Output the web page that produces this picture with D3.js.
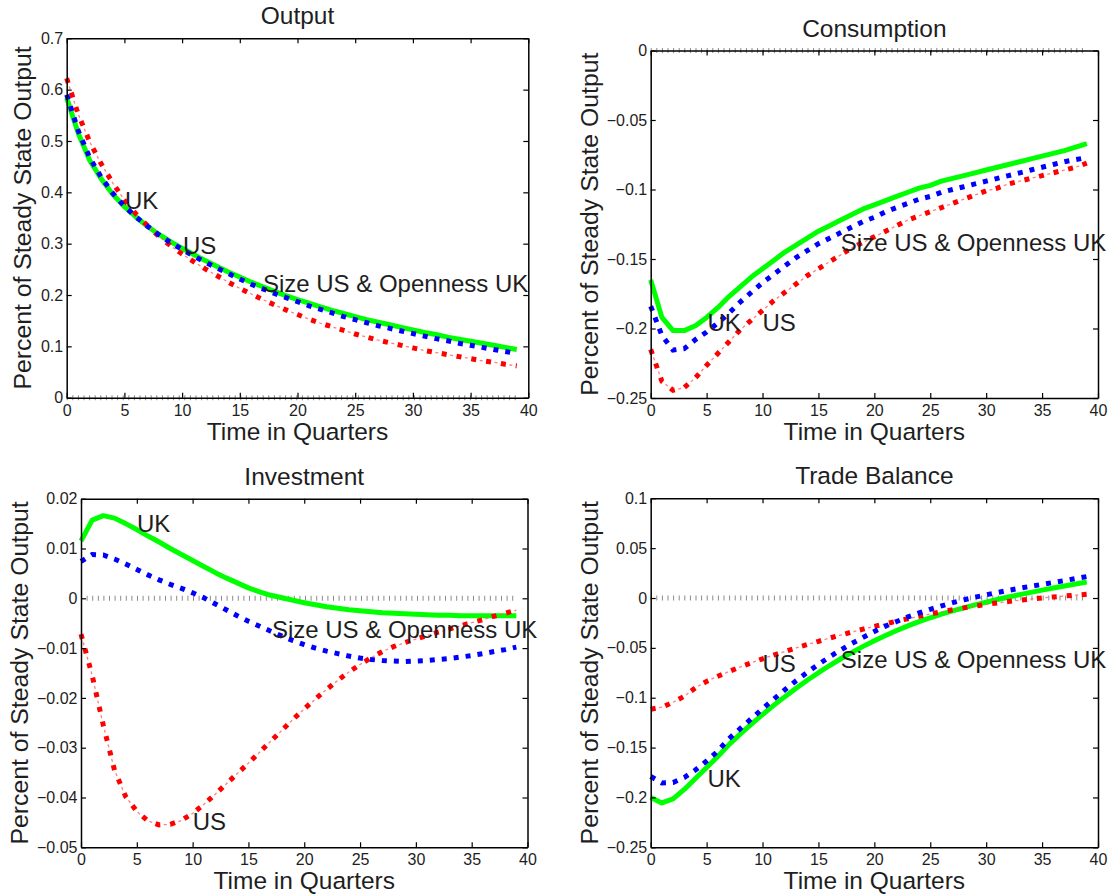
<!DOCTYPE html>
<html><head><meta charset="utf-8">
<script src="https://cdn.jsdelivr.net/npm/d3@7"></script>
<style>
body{margin:0;background:#fff}
svg{display:block}
text{font-family:"Liberation Sans",Arial,Helvetica,sans-serif;fill:#1e1e1e}
</style>
</head><body><svg id="c" width="1111" height="896"></svg>
<script>
// ---------------- data ----------------
const quarters = [0,1,2,3,4,5,6,7,8,9,10,11,12,13,14,15,16,17,18,19,20,21,22,23,24,25,26,27,28,29,30,31,32,33,34,35,36,37,38,39];
const xTicks = [0,5,10,15,20,25,30,35,40];
const xTickLabels = ["0","5","10","15","20","25","30","35","40"];
const seriesNames = ["UK","US","Size US & Openness UK"];

// Output
const outputUK   = [0.584,0.515,0.462,0.426,0.396,0.372,0.352,0.334,0.318,0.304,0.291,0.279,0.267,0.256,0.245,0.235,0.225,0.216,0.207,0.199,0.191,0.184,0.177,0.170,0.164,0.158,0.152,0.147,0.142,0.137,0.132,0.127,0.123,0.118,0.114,0.110,0.106,0.102,0.098,0.094];
const outputUS   = [0.622,0.552,0.498,0.455,0.418,0.385,0.358,0.335,0.314,0.296,0.280,0.265,0.251,0.238,0.225,0.213,0.202,0.191,0.181,0.171,0.162,0.153,0.145,0.138,0.131,0.124,0.118,0.112,0.107,0.102,0.097,0.092,0.088,0.084,0.080,0.076,0.072,0.069,0.065,0.062];
const outputSize = [0.590,0.520,0.467,0.429,0.398,0.373,0.352,0.334,0.317,0.302,0.289,0.276,0.264,0.253,0.242,0.231,0.221,0.212,0.203,0.195,0.187,0.179,0.172,0.165,0.158,0.152,0.146,0.140,0.135,0.130,0.125,0.120,0.115,0.111,0.106,0.102,0.098,0.094,0.090,0.086];
const outputYTicks = [0,0.1,0.2,0.3,0.4,0.5,0.6,0.7];
const outputYLabels = ["0","0.1","0.2","0.3","0.4","0.5","0.6","0.7"];

// Consumption
const consUK   = [-0.165,-0.192,-0.2015,-0.2015,-0.198,-0.192,-0.185,-0.177,-0.170,-0.163,-0.157,-0.151,-0.145,-0.140,-0.135,-0.130,-0.126,-0.122,-0.118,-0.114,-0.111,-0.108,-0.105,-0.102,-0.099,-0.097,-0.094,-0.092,-0.090,-0.088,-0.086,-0.084,-0.082,-0.080,-0.078,-0.076,-0.074,-0.072,-0.0695,-0.067];
const consUS   = [-0.215,-0.238,-0.2445,-0.2425,-0.2355,-0.2265,-0.218,-0.2095,-0.201,-0.194,-0.187,-0.180,-0.174,-0.168,-0.162,-0.157,-0.152,-0.147,-0.142,-0.138,-0.134,-0.130,-0.126,-0.122,-0.119,-0.116,-0.113,-0.110,-0.107,-0.104,-0.101,-0.099,-0.096,-0.094,-0.092,-0.090,-0.088,-0.086,-0.084,-0.081];
const consSize = [-0.184,-0.205,-0.2155,-0.2145,-0.208,-0.2025,-0.196,-0.189,-0.181,-0.174,-0.167,-0.161,-0.155,-0.149,-0.144,-0.139,-0.135,-0.131,-0.127,-0.123,-0.120,-0.116,-0.113,-0.110,-0.107,-0.105,-0.102,-0.100,-0.098,-0.096,-0.094,-0.092,-0.090,-0.088,-0.086,-0.084,-0.082,-0.080,-0.0785,-0.077];
const consYTicks = [-0.25,-0.2,-0.15,-0.1,-0.05,0];
const consYLabels = ["\u22120.25","\u22120.2","\u22120.15","\u22120.1","\u22120.05","0"];

// Investment
const invUK   = [0.0115,0.0157,0.0166,0.0161,0.0150,0.0138,0.0125,0.0113,0.0100,0.0088,0.0076,0.0064,0.0052,0.0041,0.0031,0.0021,0.0013,0.0006,0.0001,-0.0004,-0.0009,-0.0013,-0.0017,-0.0020,-0.0023,-0.0025,-0.0027,-0.0029,-0.0030,-0.0031,-0.0032,-0.0033,-0.0034,-0.0034,-0.0035,-0.0035,-0.0035,-0.0035,-0.0035,-0.0035];
const invUS   = [-0.0072,-0.0155,-0.0255,-0.0345,-0.0398,-0.0428,-0.0447,-0.0455,-0.0454,-0.0446,-0.0432,-0.0414,-0.0394,-0.0373,-0.0352,-0.0331,-0.0309,-0.0287,-0.0265,-0.0243,-0.0222,-0.0202,-0.0183,-0.0165,-0.0148,-0.0133,-0.0119,-0.0107,-0.0097,-0.0089,-0.0082,-0.0075,-0.0068,-0.0062,-0.0055,-0.0049,-0.0043,-0.0036,-0.0030,-0.0024];
const invSize = [0.0074,0.0088,0.0087,0.0079,0.0069,0.0058,0.0047,0.0037,0.0028,0.0020,0.0011,0.0001,-0.0011,-0.0023,-0.0035,-0.0046,-0.0056,-0.0066,-0.0076,-0.0085,-0.0093,-0.0100,-0.0106,-0.0111,-0.0116,-0.0120,-0.0123,-0.0125,-0.0126,-0.0127,-0.0126,-0.0125,-0.0123,-0.0121,-0.0118,-0.0115,-0.0111,-0.0107,-0.0103,-0.0098];
const invYTicks = [-0.05,-0.04,-0.03,-0.02,-0.01,0,0.01,0.02];
const invYLabels = ["\u22120.05","\u22120.04","\u22120.03","\u22120.02","\u22120.01","0","0.01","0.02"];

// Trade balance
const tbUK   = [-0.200,-0.2055,-0.2015,-0.192,-0.181,-0.170,-0.159,-0.147,-0.1365,-0.1265,-0.1169,-0.1077,-0.0989,-0.0905,-0.0825,-0.0749,-0.0677,-0.0609,-0.0545,-0.0485,-0.0429,-0.0376,-0.0326,-0.0279,-0.0237,-0.0198,-0.0162,-0.0129,-0.0098,-0.0069,-0.0042,-0.0015,0.0010,0.0034,0.0057,0.0079,0.0100,0.0120,0.0140,0.0160];
const tbUS   = [-0.1115,-0.1095,-0.1045,-0.0985,-0.0900,-0.0836,-0.0785,-0.0737,-0.0692,-0.0650,-0.0610,-0.0572,-0.0536,-0.0501,-0.0467,-0.0434,-0.0402,-0.0371,-0.0341,-0.0312,-0.0284,-0.0258,-0.0232,-0.0208,-0.0184,-0.0161,-0.0139,-0.0118,-0.0099,-0.0081,-0.0064,-0.0049,-0.0035,-0.0022,-0.0010,0.0001,0.0011,0.0020,0.0028,0.0038];
const tbSize = [-0.179,-0.1855,-0.185,-0.180,-0.1725,-0.1635,-0.1535,-0.141,-0.131,-0.121,-0.111,-0.1015,-0.092,-0.083,-0.0745,-0.0665,-0.059,-0.052,-0.0455,-0.0395,-0.0336,-0.0282,-0.0235,-0.0190,-0.0150,-0.0113,-0.0079,-0.0047,-0.0018,0.0008,0.0032,0.0055,0.0077,0.0098,0.0118,0.0137,0.0156,0.0175,0.0195,0.0215];
const tbYTicks = [-0.25,-0.2,-0.15,-0.1,-0.05,0,0.05,0.1];
const tbYLabels = ["\u22120.25","\u22120.2","\u22120.15","\u22120.1","\u22120.05","0","0.05","0.1"];

// annotation positions (data coords: quarter, value)
const outputNotes = [["UK",5.05,0.385],["US",10.07,0.297],["Size US & Openness UK",17.0,0.223]];
const consNotes   = [["Size US & Openness UK",17.0,-0.138],["UK",5.07,-0.1953],["US",10.0,-0.1953]];
const invNotes    = [["UK",5.02,0.0151],["Size US & Openness UK",17.1,-0.0062],["US",10.0,-0.0448]];
const tbNotes     = [["US",10.0,-0.0655],["Size US & Openness UK",17.0,-0.0615],["UK",5.07,-0.181]];

// ---------------- layout ----------------
const panels = [
  {title:"Output", box:[66.7,38.3,528.3,397.7], yDom:[0,0.7], yt:outputYTicks, yl:outputYLabels, uk:outputUK, us:outputUS, sz:outputSize, notes:outputNotes, ylabX:22},
  {title:"Consumption", box:[650.7,50.5,1098,398], yDom:[-0.25,0], yt:consYTicks, yl:consYLabels, uk:consUK, us:consUS, sz:consSize, notes:consNotes, ylabX:589},
  {title:"Investment", box:[81,498.7,527.5,847.3], yDom:[-0.05,0.02], yt:invYTicks, yl:invYLabels, uk:invUK, us:invUS, sz:invSize, notes:invNotes, ylabX:19},
  {title:"Trade Balance", box:[650.7,498.3,1098,847.3], yDom:[-0.25,0.1], yt:tbYTicks, yl:tbYLabels, uk:tbUK, us:tbUS, sz:tbSize, notes:tbNotes, ylabX:589}
];

const svg = d3.select("#c");

panels.forEach(p => {
  const [x0,y0,x1,y1] = p.box;
  const x = d3.scaleLinear().domain([0,40]).range([x0,x1]);
  const y = d3.scaleLinear().domain(p.yDom).range([y1,y0]);
  const g = svg.append("g");

  // zero line (dotted tick pattern)
  g.append("line")
    .attr("x1", x(quarters[0])).attr("x2", x(quarters[quarters.length-1]))
    .attr("y1", y(0)).attr("y2", y(0))
    .attr("stroke","#8a8a8a").attr("stroke-width",5)
    .attr("stroke-dasharray","1,4.6");

  const line = d3.line().x((d,i)=>x(quarters[i])).y(d=>y(d));

  // UK green solid
  g.append("path").datum(p.uk).attr("d",line)
    .attr("fill","none").attr("stroke","#00ff00").attr("stroke-width",5)
    .attr("stroke-linejoin","round");
  // US red dash-dot
  g.append("path").datum(p.us).attr("d",line)
    .attr("fill","none").attr("stroke","#ff6060").attr("stroke-width",1.3)
    .attr("stroke-dasharray","0,8.5,3,3.5").attr("opacity",0.8);
  g.append("path").datum(p.us).attr("d",line)
    .attr("fill","none").attr("stroke","#ff0000").attr("stroke-width",5)
    .attr("stroke-dasharray","5,10");
  // Size US & Openness UK blue dotted
  g.append("path").datum(p.sz).attr("d",line)
    .attr("fill","none").attr("stroke","#0000ff").attr("stroke-width",5)
    .attr("stroke-dasharray","5,7");

  // axes (box with inward ticks)
  const ax = (sel)=>sel.attr("font-size",16).call(s=>s.selectAll("path.domain").attr("stroke","#000").attr("stroke-width",1.5))
    .call(s=>s.selectAll(".tick line").attr("stroke","#000").attr("stroke-width",1.2))
    .call(s=>s.selectAll(".tick text").attr("fill","#1e1e1e").attr("font-family","'Liberation Sans',Arial,sans-serif"));

  g.append("g").attr("transform",`translate(0,${y1})`)
    .call(d3.axisBottom(x).tickValues(xTicks).tickFormat((d,i)=>xTickLabels[i]).tickSizeInner(-5).tickSizeOuter(0).tickPadding(6.5))
    .call(ax);
  g.append("g").attr("transform",`translate(0,${y0})`)
    .call(d3.axisTop(x).tickValues(xTicks).tickFormat("").tickSizeInner(-5).tickSizeOuter(0))
    .call(ax);
  g.append("g").attr("transform",`translate(${x0},0)`)
    .call(d3.axisLeft(y).tickValues(p.yt).tickFormat((d,i)=>p.yl[i]).tickSizeInner(-5).tickSizeOuter(0).tickPadding(3.5))
    .call(ax);
  g.append("g").attr("transform",`translate(${x1},0)`)
    .call(d3.axisRight(y).tickValues(p.yt).tickFormat("").tickSizeInner(-5).tickSizeOuter(0))
    .call(ax);

  // title and axis labels
  g.append("text").attr("x",(x0+x1)/2).attr("y",y0-14).attr("text-anchor","middle")
    .attr("font-size",24.5).text(p.title);
  g.append("text").attr("x",(x0+x1)/2).attr("y",y1+42).attr("text-anchor","middle")
    .attr("font-size",24.5).text("Time in Quarters");
  g.append("text").attr("transform",`translate(${p.ylabX},${(y0+y1)/2}) rotate(-90)`)
    .attr("text-anchor","middle").attr("dy","0.35em").attr("font-size",24.8)
    .text("Percent of Steady State Output");

  // annotations
  p.notes.forEach(n=>{
    g.append("text").attr("x",x(n[1])).attr("y",y(n[2])).attr("dy","0.36em")
      .attr("font-size",24).text(n[0]);
  });
});
</script>
</body></html>
